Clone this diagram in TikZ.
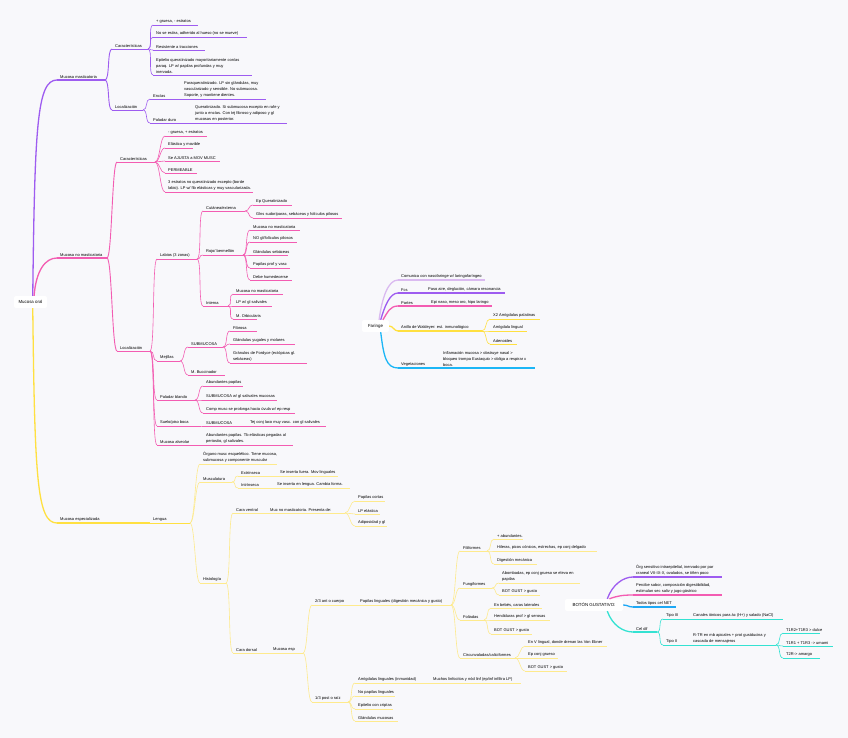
\documentclass[tikz,border=0pt]{standalone}
\usepackage{fontspec}
\setmainfont{Liberation Sans}
\usepackage{tikz}
\usetikzlibrary{calc}
\usepackage{xcolor}
\definecolor{mmpurple}{RGB}{158,92,240}
\definecolor{mnmpink}{RGB}{243,92,178}
\definecolor{meyellow}{RGB}{255,224,64}
\definecolor{meyellowlt}{RGB}{254,234,140}
\definecolor{fcyan}{RGB}{28,182,246}
\definecolor{flav}{RGB}{218,186,240}
\definecolor{bblue}{RGB}{30,168,245}
\definecolor{bturq}{RGB}{52,226,210}
\definecolor{bgpaper}{RGB}{248,248,251}

% topic: [line] name, x, y (underline), end x of underline, text
\newcommand{\tp}[6][l3]{%
  \node[tp] (#2) at (#3,#4) {#6};
  \coordinate (#2-e) at (#5,#4);
  \draw[br,#1] (#2.south west) -- (#2-e);}
% curved link from end of parent underline to child
\newcommand{\cn}[3][l3]{%
  \draw[br,#1] (#2-e) .. controls +(5,0) and +(-5,0) .. (#3.south west);}

\begin{document}
\begin{tikzpicture}[x=1pt,y=-1pt,
  tp/.style={anchor=south west,inner xsep=3pt,inner ysep=1pt,align=left,
    font=\fontsize{4}{6}\selectfont},
  rootbox/.style={fill=white,rounded corners=2pt,inner sep=1pt,
    minimum height=12pt,font=\fontsize{4.4}{5}\selectfont},
  l1/.style={line width=1.3pt},
  l2/.style={line width=0.9pt},
  l3/.style={line width=0.6pt},
  br/.style={draw=black}]
  \useasboundingbox (0,0) rectangle (848,738);
  \fill[bgpaper] (0,0) rectangle (848,738);

  \node[rootbox,minimum width=33pt] (root) at (30.5,302) {Mucosa oral};

  % Mucosa masticatoria
  \begin{scope}[br/.style={draw=mmpurple}]
    \tp[l1]{mm}{57}{80}{105}{Mucosa masticatoria}
    \tp[l2]{carA}{112}{49}{148}{Características}
    \tp{pA}{153}{25}{198}{+ gruesa, - estratos}
    \tp{pB}{153}{37}{247}{No se estira, adherido al hueso (no se mueve)}
    \tp{pC}{153}{50}{205}{Resistente a tracciones}
    \tp{pD}{153}{75}{252}{Epitelio queratinizado mayoritariamente con/as\\paraq. LP w/ papilas profundas y muy\\inervada.}
    \tp[l2]{locA}{112}{110}{143}{Localización}
    \tp{enc}{150}{99}{181}{Encías}
    \tp{encT}{181}{99}{266}{Paraqueratinizado. LP sin glándulas, muy\\vascularizado y sensible. No submucosa.\\Soporte, y mantiene dientes.}
    \tp{pdu}{150}{123}{192}{Paladar duro}
    \tp{pduT}{192}{123}{287}{Queratinizado. Si submucosa excepto en rafe y\\junto a encías. Con tej fibroso y adiposo y gl\\mucosas en posterior.}
    \draw[br,l1] (root.70) .. controls +(2,-170) and +(-20,0) .. (mm.south west);
    \cn[l2]{mm}{carA} \cn[l2]{mm}{locA}
    \cn{carA}{pA} \cn{carA}{pB} \cn{carA}{pC} \cn{carA}{pD}
    \cn{locA}{enc} \cn{locA}{pdu}
  \end{scope}

  % Mucosa no masticatoria
  \begin{scope}[br/.style={draw=mnmpink}]
    \tp[l1]{mnm}{57}{258}{107}{Mucosa no masticatoria}
    \tp[l2]{carB}{117}{162}{155}{Características}
    \tp{kA}{165}{136}{207}{- gruesa, + estratos}
    \tp{kB}{165}{148}{193}{Elástica y movible}
    \tp{kC}{165}{161}{220}{Se AJUSTA a MOV MUSC}
    \tp{kD}{165}{173}{197}{PERMEABLE}
    \tp{kE}{165}{192}{253}{3 estratos no queratinizado excepto (borde\\labio). LP w/ fib elásticas y muy vascularizada.}
    \tp[l2]{locB}{117}{351}{150}{Localización}
    \tp{lab}{157}{259}{197}{Labios (3 zonas)}
    \tp{cut}{203}{211}{245}{Cutánea/externa}
    \tp{cutA}{253}{205}{292}{Ep Queratinizado}
    \tp{cutB}{253}{218}{342}{Glns sudoríparas, sebáceas y folículos pilosos}
    \tp{roj}{203}{255}{243}{Rojo/ bermellón}
    \tp{rojA}{250}{230}{300}{Mucosa no masticatoria}
    \tp{rojB}{250}{242}{297}{NO gl/folículos pilosos}
    \tp{rojC}{250}{255}{288}{Glándulas sebáceas}
    \tp{rojD}{250}{268}{290}{Papilas prof y vasc}
    \tp{rojE}{250}{280}{292}{Debe humedecerse}
    \tp{inn}{203}{306}{228}{Interna}
    \tp{innA}{233}{294}{283}{Mucosa no masticatoria}
    \tp{innB}{233}{306}{272}{LP w/ gl salivales}
    \tp{innC}{233}{319}{257}{M. Orbicularis}
    \tp{mej}{157}{361}{180}{Mejillas}
    \tp{subA}{188}{347}{223}{SUBMUCOSA}
    \tp{subAa}{230}{331}{257}{Fibrosa}
    \tp{subAb}{230}{344}{295}{Glándulas yugales y molares}
    \tp{subAc}{230}{363}{307}{Gránulos de Fordyce (ectópicas gl.\\sebáceas)}
    \tp{buc}{188}{375}{225}{M. Buccinador}
    \tp{pbl}{157}{400}{195}{Paladar blando}
    \tp{pblA}{203}{386}{243}{Abundantes papilas}
    \tp{pblB}{203}{400}{277}{SUBMUCOSA w/ gl salivales mucosas}
    \tp{pblC}{203}{413}{295}{Comp musc se prolonga hacia úvula w/ ep resp}
    \tp{sue}{157}{426}{200}{Suelo/piso boca}
    \tp{subB}{203}{426}{245}{SUBMUCOSA}
    \tp{subBt}{247}{426}{326}{Tej conj laxo muy vasc. con gl salivales}
    \tp{alv}{157}{445}{203}{Mucosa alveolar}
    \tp{alvT}{203}{445}{293}{Abundantes papilas. Tb elásticas pegadas al\\periostio, gl salivales.}
    \draw[br,l1] (root.60) .. controls +(2,-25) and +(-12,0) .. (mnm.south west);
    \cn[l2]{mnm}{carB} \cn[l2]{mnm}{locB}
    \cn{carB}{kA} \cn{carB}{kB} \cn{carB}{kC} \cn{carB}{kD} \cn{carB}{kE}
    \cn{locB}{lab} \cn{locB}{mej} \cn{locB}{pbl} \cn{locB}{sue} \cn{locB}{alv}
    \cn{lab}{cut} \cn{lab}{roj} \cn{lab}{inn}
    \cn{cut}{cutA} \cn{cut}{cutB}
    \cn{roj}{rojA} \cn{roj}{rojB} \cn{roj}{rojC} \cn{roj}{rojD} \cn{roj}{rojE}
    \cn{inn}{innA} \cn{inn}{innB} \cn{inn}{innC}
    \cn{mej}{subA} \cn{mej}{buc}
    \cn{subA}{subAa} \cn{subA}{subAb} \cn{subA}{subAc}
    \cn{pbl}{pblA} \cn{pbl}{pblB} \cn{pbl}{pblC}
    \cn{sue}{subB} \cn{subB}{subBt} \cn{alv}{alvT}
  \end{scope}

  % Mucosa especializada
  \begin{scope}[br/.style={draw=meyellowlt}]
    \tp[l1,draw=meyellow]{me}{57}{523}{150}{Mucosa especializada}
    \tp[l2,draw=meyellow]{len}{150}{523}{190}{Lengua}
    \tp{org}{200}{464}{277}{Órgano musc esquelético. Tiene mucosa,\\submucosa y componente muscular}
    \tp{mus}{200}{482}{232}{Musculatura}
    \tp{ext}{238}{476}{275}{Extrínseca}
    \tp{extT}{277}{476}{338}{Se inserta fuera. Mov linguales}
    \tp{intr}{238}{488}{272}{Intrínseca}
    \tp{intrT}{274}{488}{350}{Se inserta en lengua. Cambia forma.}
    \tp{his}{200}{583}{226}{Histología}
    \tp{cv}{233}{513}{267}{Cara ventral}
    \tp{cvT}{267}{513}{345}{Muc no masticatoria. Presenta de:}
    \tp{cvA}{355}{501}{385}{Papilas cortas}
    \tp{cvB}{355}{514}{380}{LP elástica}
    \tp{cvC}{355}{526}{387}{Adiposidad y gl}
    \tp{cd}{233}{653}{270}{Cara dorsal}
    \tp{mesp}{270}{653}{303}{Mucosa esp}
    \tp{dAnt}{312}{605}{357}{2/3 ant o cuerpo}
    \tp{pap}{357}{605}{451}{Papilas linguales (digestión mecánica y gusto)}
    \tp{fil}{460}{551}{487}{Filiformes}
    \tp{filA}{494}{539}{523}{+ abundantes.}
    \tp{filB}{494}{551}{597}{Hileras, picos cónicos, estrechas, ep conj delgado}
    \tp{filC}{494}{564}{537}{Digestión mecánica}
    \tp{fun}{460}{588}{492}{Fungiformes}
    \tp{funA}{499}{583}{580}{Abombadas, ep conj grueso se eleva en\\papilas}
    \tp{funB}{499}{595}{540}{BOT GUST > gusto}
    \tp{fol}{460}{620}{484}{Foliadas}
    \tp{folA}{491}{608}{542}{En bebés, caras laterales}
    \tp{folB}{491}{620}{550}{Hendiduras prof > gl serosas}
    \tp{folC}{491}{634}{532}{BOT GUST > gusto}
    \tp{cir}{460}{658}{515}{Circunvaladas/caliciformes}
    \tp{cirA}{525}{646}{607}{En V lingual, donde drenan las Von Ebner}
    \tp{cirB}{525}{658}{558}{Ep conj grueso}
    \tp{cirC}{525}{671}{567}{BOT GUST > gusto}
    \tp{dPost}{312}{702}{348}{1/3 post o raíz}
    \tp{amg}{355}{683}{430}{Amígdalas linguales (inmunidad)}
    \tp{amgT}{430}{683}{521}{Muchos linfocitos y nód linf (ep/inf infiltra LP)}
    \tp{noPap}{355}{696}{395}{No papilas linguales}
    \tp{cri}{355}{709}{393}{Epitelio con criptas}
    \tp{glm}{355}{721}{398}{Glándulas mucosas}
    \draw[meyellow,l1] (root.-70) .. controls +(2,170) and +(-20,0) .. (me.south west);
    \cn{len}{org} \cn{len}{mus} \cn{len}{his}
    \cn{mus}{ext} \cn{mus}{intr} \cn{ext}{extT} \cn{intr}{intrT}
    \cn{his}{cv} \cn{his}{cd} \cn{cv}{cvT}
    \cn{cvT}{cvA} \cn{cvT}{cvB} \cn{cvT}{cvC}
    \cn{cd}{mesp} \cn{mesp}{dAnt} \cn{mesp}{dPost} \cn{dAnt}{pap}
    \cn{pap}{fil} \cn{pap}{fun} \cn{pap}{fol} \cn{pap}{cir}
    \cn{fil}{filA} \cn{fil}{filB} \cn{fil}{filC}
    \cn{fun}{funA} \cn{fun}{funB}
    \cn{fol}{folA} \cn{fol}{folB} \cn{fol}{folC}
    \cn{cir}{cirA} \cn{cir}{cirB} \cn{cir}{cirC}
    \cn{dPost}{amg} \cn{dPost}{noPap} \cn{dPost}{cri} \cn{dPost}{glm}
    \cn{amg}{amgT}
  \end{scope}

  % Faringe
  \node[rootbox,minimum width=27pt] (far) at (375.5,326) {Faringe};
  \begin{scope}[br/.style={draw=flav}]
    \tp[l1]{farA}{398}{280}{485}{Comunica con nasofaringe w/ laringofaríngeo}
    \draw[br,l1] (far.60) .. controls +(3,-22) and +(-10,0) .. (farA.south west);
  \end{scope}
  \begin{scope}[br/.style={draw=mmpurple}]
    \tp[l1]{farB}{398}{293}{425}{Fcs}
    \tp[l1]{farBt}{425}{293}{505}{Paso aire, deglución, cámara resonancia}
    \draw[br,l1] (far.50) .. controls +(4,-14) and +(-8,0) .. (farB.south west);
  \end{scope}
  \begin{scope}[br/.style={draw=mnmpink}]
    \tp[l1]{farC}{398}{306}{428}{Partes}
    \tp[l1]{farCt}{428}{306}{492}{Epi naso, meso oro, hipo laringo}
    \draw[br,l1] (far.40) .. controls +(5,-8) and +(-8,0) .. (farC.south west);
  \end{scope}
  \begin{scope}[br/.style={draw=meyellow}]
    \tp[l1]{farD}{398}{331}{482}{Anillo de Waldeyer: est. inmunológico}
    \tp{walA}{490}{319}{540}{X2 Amígdalas palatinas}
    \tp{walB}{490}{331}{527}{Amígdala lingual}
    \tp{walC}{490}{344}{517}{Adenoides}
    \draw[br,l1] (far.east) .. controls +(4,0) and +(-4,0) .. (farD.south west);
    \cn{farD}{walA} \cn{farD}{walB} \cn{farD}{walC}
  \end{scope}
  \begin{scope}[br/.style={draw=fcyan}]
    \tp[l1]{farE}{398}{368}{440}{Vegetaciones}
    \tp[l1]{farEt}{440}{368}{535}{Inflamación mucosa > obstruye nasal >\\bloqueo trompa Eustaquio > obliga a respirar x\\boca.}
    \draw[br,l1] (far.-50) .. controls +(3,24) and +(-12,0) .. (farE.south west);
  \end{scope}

  % Botón gustativo
  \node[rootbox,minimum width=58pt] (bot) at (594,605) {BOTÓN GUSTATIVO:};
  \begin{scope}[br/.style={draw=mmpurple}]
    \tp[l1]{botA}{633}{577}{722}{Órg sensitivo intraepitelial, inervado por par\\craneal VII-IX-X, ovalados, se tiñen poco}
    \draw[br,l1] (bot.25) .. controls +(5,-14) and +(-10,0) .. (botA.south west);
  \end{scope}
  \begin{scope}[br/.style={draw=mnmpink}]
    \tp[l1]{botB}{633}{595}{722}{Percibe sabor, composición digestibilidad,\\estimulan sec saliv y jugo gástrico}
    \draw[br,l1] (bot.22) .. controls +(8,-3) and +(-10,0) .. (botB.south west);
  \end{scope}
  \begin{scope}[br/.style={draw=bblue}]
    \tp[l1]{botC}{633}{607}{676}{Todos tipos cel NET}
    \draw[br,l1] (bot.east) .. controls +(5,0) and +(-5,0) .. (botC.south west);
  \end{scope}
  \begin{scope}[br/.style={draw=bturq}]
    \tp[l1]{botD}{633}{632}{657}{Cel dif}
    \tp{tIII}{663}{619}{690}{Tipo III}
    \tp{tIIIt}{690}{619}{783}{Canales iónicos para ác (H+) y salado (NaCl)}
    \tp{tII}{663}{645}{690}{Tipo II}
    \tp{tIIt}{690}{645}{776}{R-TR en mb apicales + prot gustducina y\\cascada de mensajeros}
    \tp{dul}{783}{633}{820}{T1R2+T1R3 > dulce}
    \tp{uma}{783}{646}{833}{T1R1 + T1R3 -> umami}
    \tp{ama}{783}{658}{820}{T2R-> amargo}
    \draw[br,l1] (bot.-25) .. controls +(5,14) and +(-10,0) .. (botD.south west);
    \cn{botD}{tIII} \cn{botD}{tII} \cn{tIII}{tIIIt} \cn{tII}{tIIt}
    \cn{tIIt}{dul} \cn{tIIt}{uma} \cn{tIIt}{ama}
  \end{scope}
\end{tikzpicture}
\end{document}
